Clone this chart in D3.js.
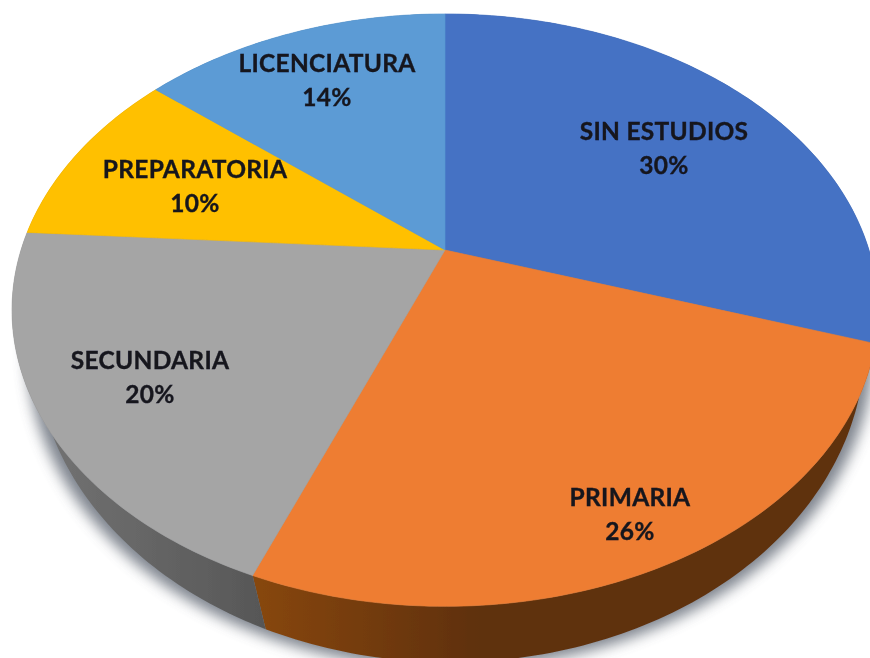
<!DOCTYPE html>
<html>
<head>
<meta charset="utf-8">
<script src="https://cdn.jsdelivr.net/npm/d3@7/dist/d3.min.js"></script>
<style>html,body{margin:0;padding:0;background:#fff}svg{display:block}</style>
</head>
<body>
<script>
const categories = ["SIN ESTUDIOS", "PRIMARIA", "SECUNDARIA", "PREPARATORIA", "LICENCIATURA"];
const values = [30, 26, 20, 10, 14];
const percentLabels = ["30%", "26%", "20%", "10%", "14%"];
const topColors = ["#4472c4", "#ee7d31", "#a5a5a5", "#ffc000", "#5b9bd5"];
const wallColorsLeft = ["#2c4a80", "#864610", "#747474", "#a67c00", "#3b6a94"];
const wallColorsRight = ["#2c4a80", "#5f300f", "#575757", "#a67c00", "#3b6a94"];
const labelCenters = [[664, 148], [630, 514], [150, 377], [195, 186], [327, 80]];

const W = 870, H = 658;
// Perspective of the pie plane
const apex = [445, 250], k = 0.203, sx = 424, sy = 284;
const project = (r, a) => {
  const x = r * Math.sin(a), y = -r * Math.cos(a), d = 1 - k * y;
  return [apex[0] + sx * x / d, apex[1] + sy * y / d];
};
// Base of the disc: the same circle scaled and dropped
const topCy = 310, baseCx = 450, baseCy = 344, baseSx = 0.958, baseSy = 1.074;
const projectBase = (a) => {
  const [px, py] = project(1, a);
  return [baseCx + baseSx * (px - apex[0]), baseCy + baseSy * (py - topCy)];
};

const pieGen = d3.pie().sort(null).value(d => d).startAngle(0).endAngle(2 * Math.PI);
const arcs = pieGen(values);
const line = d3.line().curve(d3.curveLinear);
const arcAngles = (a0, a1) => {
  const n = Math.max(2, Math.ceil((a1 - a0) * 60));
  return d3.range(n + 1).map(i => a0 + (a1 - a0) * i / n);
};

const svg = d3.select("body").append("svg").attr("width", W).attr("height", H).attr("viewBox", `0 0 ${W} ${H}`);
const defs = svg.append("defs");
const shadow = defs.append("filter").attr("id", "shadow").attr("x", "-10%").attr("y", "-10%").attr("width", "120%").attr("height", "120%");
shadow.append("feGaussianBlur").attr("stdDeviation", 7);
const soft = defs.append("filter").attr("id", "soft").attr("x", "-5%").attr("y", "-5%").attr("width", "110%").attr("height", "110%");
soft.append("feGaussianBlur").attr("stdDeviation", 0.5);
const edge = defs.append("filter").attr("id", "edge").attr("x", "-5%").attr("y", "-5%").attr("width", "110%").attr("height", "110%");
edge.append("feGaussianBlur").attr("stdDeviation", 0.6);

arcs.forEach((d, i) => {
  const g = defs.append("linearGradient").attr("id", "wall" + i)
    .attr("gradientUnits", "userSpaceOnUse")
    .attr("x1", i === 1 ? 262 : 30).attr("x2", i === 1 ? 480 : 262).attr("y1", 0).attr("y2", 0);
  g.append("stop").attr("offset", "0%").attr("stop-color", wallColorsLeft[i]);
  g.append("stop").attr("offset", "100%").attr("stop-color", wallColorsRight[i]);
});

// Drop shadow
const fullCircle = arcAngles(0, 2 * Math.PI);
svg.append("path")
  .attr("d", line(fullCircle.map(a => {
    const p = projectBase(a);
    return [p[0] + (p[0] - baseCx) * 0.02, p[1] + 6];
  })) + "Z")
  .attr("fill", "#5f6672").attr("opacity", 0.8).attr("filter", "url(#shadow)");

// Walls
svg.append("g").attr("filter", "url(#edge)").selectAll("path").data(arcs).join("path")
  .attr("d", d => {
    const as = arcAngles(d.startAngle, d.endAngle);
    const upper = as.map(a => project(1, a));
    const lower = as.slice().reverse().map(projectBase);
    return line(upper.concat(lower)) + "Z";
  })
  .attr("fill", (d, i) => `url(#wall${i})`);

// Top face
svg.append("g").attr("filter", "url(#edge)").selectAll("path").data(arcs).join("path")
  .attr("d", d => line([apex].concat(arcAngles(d.startAngle, d.endAngle).map(a => project(1, a)))) + "Z")
  .attr("fill", (d, i) => topColors[i])
  .attr("stroke", (d, i) => topColors[i]).attr("stroke-width", 0.6);

// Labels
const labels = svg.append("g").attr("filter", "url(#soft)")
  .attr("font-family", "Lato, 'Open Sans', sans-serif").attr("font-weight", 700)
  .attr("font-size", 24.5).attr("letter-spacing", 0.3).attr("text-anchor", "middle")
  .attr("fill", "#15151f").attr("stroke", "#15151f").attr("stroke-width", 0.35);
categories.forEach((c, i) => {
  const [x, y] = labelCenters[i];
  labels.append("text").attr("x", x).attr("y", y - 8.5).text(c);
  labels.append("text").attr("x", x).attr("y", y + 25.5).text(percentLabels[i]);
});
</script>
</body>
</html>
